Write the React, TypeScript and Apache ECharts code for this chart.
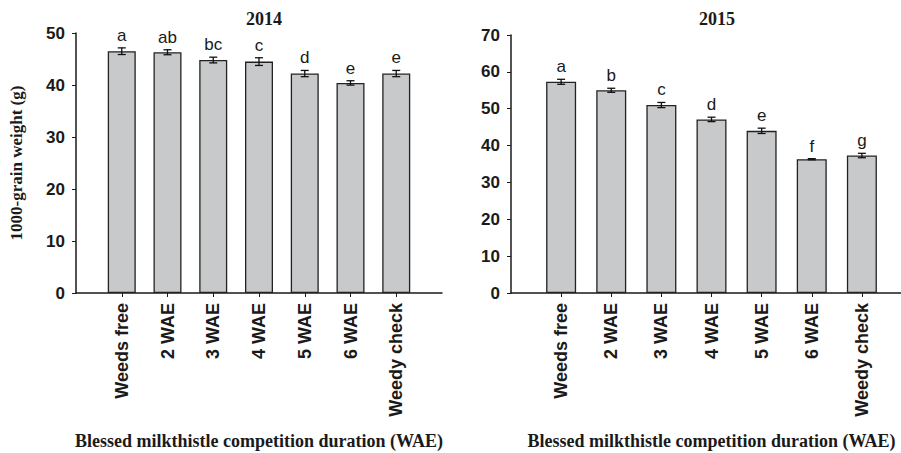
import React, { useEffect, useRef } from "react";
import * as echarts from "echarts";

const categories = ["Weeds free", "2 WAE", "3 WAE", "4 WAE", "5 WAE", "6 WAE", "Weedy check"];
const values2014 = [46.5, 46.3, 44.8, 44.5, 42.2, 40.4, 42.2];
const errors2014 = [0.64, 0.48, 0.55, 0.74, 0.6, 0.42, 0.6];
const letters2014 = ["a", "ab", "bc", "c", "d", "e", "e"];
const values2015 = [57.3, 55.0, 51.0, 47.1, 44.0, 36.3, 37.3];
const errors2015 = [0.68, 0.55, 0.7, 0.6, 0.72, 0.15, 0.6];
const letters2015 = ["a", "b", "c", "d", "e", "f", "g"];
const yTicks2014 = { min: 0, max: 50, interval: 10 };
const yTicks2015 = { min: 0, max: 70, interval: 10 };
const titles = ["2014", "2015"];
const yTitle = "1000-grain weight (g)";
const xTitle = "Blessed milkthistle competition duration (WAE)";

const SANS = "'Liberation Sans', Arial, Helvetica, sans-serif";
const SERIF = "'Liberation Serif', 'Times New Roman', serif";
const INK = "#1a1a1a";

const padded = ["", ...categories, ""];

function xAxisFor(gridIndex: number) {
  return {
    type: "category",
    gridIndex,
    data: padded,
    boundaryGap: false,
    name: xTitle,
    nameLocation: "middle",
    nameGap: 139,
    nameTextStyle: { fontFamily: SERIF, fontWeight: "bold", fontSize: 18, color: INK },
    axisLine: { show: true, lineStyle: { color: INK, width: 1.5 } },
    axisTick: {
      show: true,
      length: 4,
      inside: false,
      interval: (i: number) => i > 0 && i < padded.length - 1,
      lineStyle: { color: INK, width: 1 },
    },
    axisLabel: {
      interval: 0,
      rotate: 90,
      margin: 10,
      fontFamily: SANS,
      fontWeight: "bold",
      fontSize: 18,
      color: INK,
    },
    splitLine: { show: false },
  };
}

function yAxisFor(gridIndex: number, t: { min: number; max: number; interval: number }, withName: boolean) {
  return {
    type: "value",
    gridIndex,
    min: t.min,
    max: t.max,
    interval: t.interval,
    name: withName ? yTitle : "",
    nameLocation: "middle",
    nameRotate: 90,
    nameGap: 51,
    nameTextStyle: { fontFamily: SERIF, fontWeight: "bold", fontSize: 17, color: INK },
    axisLine: { show: true, lineStyle: { color: INK, width: 1.5 } },
    axisTick: { show: true, length: 4, inside: false, lineStyle: { color: INK, width: 1 } },
    axisLabel: { margin: 11, fontFamily: SANS, fontWeight: "bold", fontSize: 17, color: INK },
    splitLine: { show: false },
  };
}

function barSeries(idx: number, vals: number[], width: number) {
  return {
    type: "bar",
    xAxisIndex: idx,
    yAxisIndex: idx,
    data: [null, ...vals, null],
    barWidth: width,
    itemStyle: { color: "#c8c9cb", borderColor: "#222", borderWidth: 1.3 },
  };
}

function errSeries(idx: number, vals: number[], errs: number[], letters: string[]) {
  const data = vals.map((v, i) => [i + 1, v, errs[i]]);
  return {
    type: "custom",
    xAxisIndex: idx,
    yAxisIndex: idx,
    data,
    z: 10,
    renderItem: (params: any, api: any) => {
      const x = api.value(0);
      const v = api.value(1);
      const e = api.value(2);
      const top = api.coord([x, v + e]);
      const bot = api.coord([x, v - e]);
      const cx = top[0];
      const cap = 4;
      const style = { stroke: "#111", lineWidth: 1.3 };
      return {
        type: "group",
        children: [
          { type: "line", shape: { x1: cx, y1: top[1], x2: cx, y2: bot[1] }, style },
          { type: "line", shape: { x1: cx - cap, y1: top[1], x2: cx + cap, y2: top[1] }, style },
          { type: "line", shape: { x1: cx - cap, y1: bot[1], x2: cx + cap, y2: bot[1] }, style },
          {
            type: "text",
            x: cx,
            y: top[1] - 4,
            style: {
              text: letters[params.dataIndex],
              fill: INK,
              font: `17px ${SANS}`,
              textAlign: "center",
              textVerticalAlign: "bottom",
            },
          },
        ],
      };
    },
  };
}

export default function App() {
  const ref = useRef<HTMLDivElement>(null);
  useEffect(() => {
    if (!ref.current) return;
    const chart = echarts.init(ref.current, undefined, { renderer: "svg" });
    chart.setOption({
      animation: false,
      backgroundColor: "#ffffff",
      title: [
        {
          text: titles[0],
          left: 259,
          top: 5,
          textAlign: "center",
          textStyle: { fontFamily: SERIF, fontWeight: "bold", fontSize: 18, color: INK },
        },
        {
          text: titles[1],
          left: 712,
          top: 5,
          textAlign: "center",
          textStyle: { fontFamily: SERIF, fontWeight: "bold", fontSize: 18, color: INK },
        },
      ],
      grid: [
        { left: 76, top: 33, width: 366, height: 260, outerBoundsMode: "none", containLabel: false },
        { left: 511, top: 35, width: 401, height: 258, outerBoundsMode: "none", containLabel: false },
      ],
      xAxis: [xAxisFor(0), xAxisFor(1)],
      yAxis: [yAxisFor(0, yTicks2014, true), yAxisFor(1, yTicks2015, false)],
      series: [
        barSeries(0, values2014, 28),
        errSeries(0, values2014, errors2014, letters2014),
        barSeries(1, values2015, 30),
        errSeries(1, values2015, errors2015, letters2015),
      ],
    });
    return () => chart.dispose();
  }, []);
  return (
    <div
      ref={ref}
      style={{ position: "fixed", left: 0, top: 0, width: 901, height: 453, background: "#fff" }}
    />
  );
}
